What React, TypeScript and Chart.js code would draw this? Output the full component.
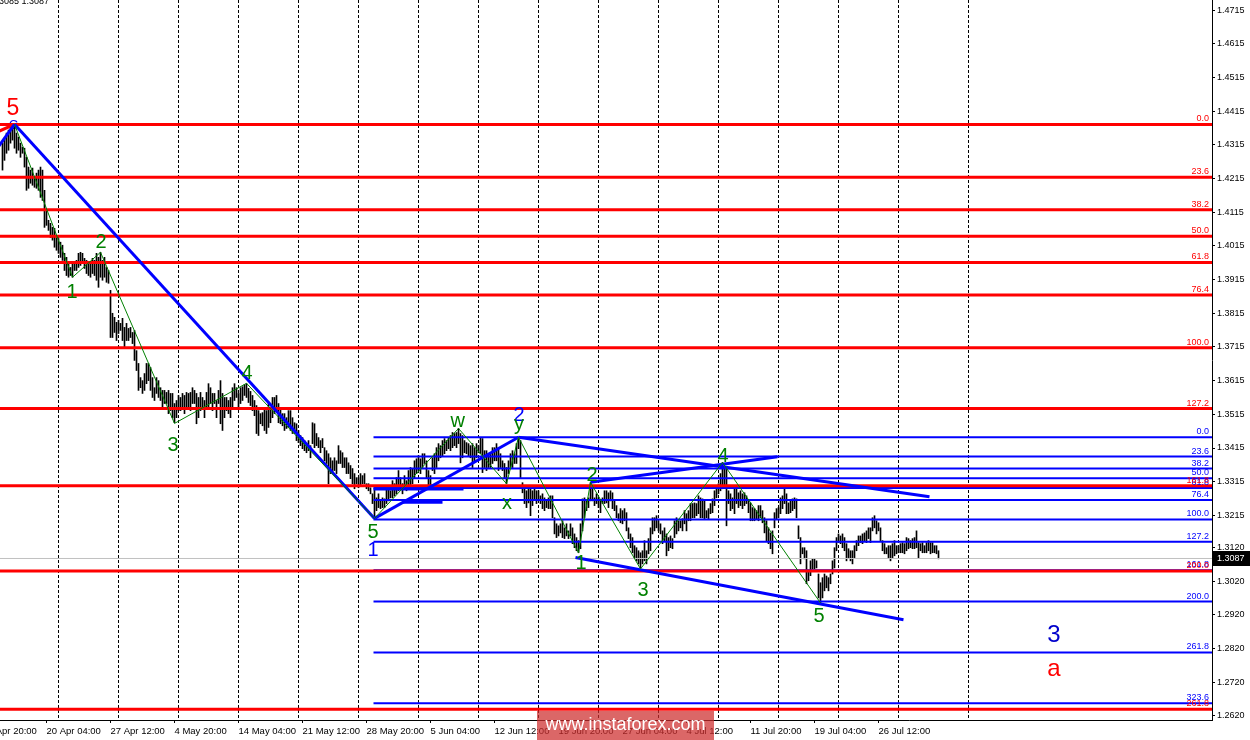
import React, { useEffect, useRef } from "react";
import { Chart, registerables } from "chart.js";

Chart.register(...registerables);

const FONT = '"Liberation Sans", Arial, Helvetica, sans-serif';

// H4 bar highs / lows (one bar per index, left to right)
const barHigh = [
  1.4320, 1.4335, 1.4350, 1.4359, 1.4367, 1.4373, 1.4376, 1.4350, 1.4338, 1.4320,
  1.4308, 1.4305, 1.4278, 1.4249, 1.4240, 1.4246, 1.4219, 1.4231, 1.4240, 1.4249,
  1.4240, 1.4180, 1.4121, 1.4091, 1.4082, 1.4070, 1.4067, 1.4040, 1.4037, 1.4026,
  1.4017, 1.3993, 1.3981, 1.3963, 1.3951, 1.3963, 1.3966, 1.3972, 1.3993, 1.3996,
  1.3993, 1.3978, 1.3972, 1.3963, 1.3966, 1.3978, 1.3972, 1.3993, 1.3981, 1.3996,
  1.3972, 1.3981, 1.3951, 1.3942, 1.3883, 1.3815, 1.3803, 1.3788, 1.3794, 1.3785,
  1.3800, 1.3773, 1.3785, 1.3770, 1.3773, 1.3758, 1.3764, 1.3704, 1.3666, 1.3624,
  1.3615, 1.3636, 1.3666, 1.3666, 1.3654, 1.3624, 1.3594, 1.3624, 1.3615, 1.3594,
  1.3586, 1.3586, 1.3580, 1.3586, 1.3577, 1.3577, 1.3547, 1.3556, 1.3571, 1.3565,
  1.3577, 1.3571, 1.3580, 1.3577, 1.3580, 1.3594, 1.3586, 1.3577, 1.3565, 1.3580,
  1.3565, 1.3556, 1.3580, 1.3606, 1.3594, 1.3577, 1.3577, 1.3556, 1.3586, 1.3615,
  1.3577, 1.3565, 1.3565, 1.3556, 1.3565, 1.3594, 1.3606, 1.3594, 1.3577,
  1.3594, 1.3597, 1.3603, 1.3606, 1.3592, 1.3583, 1.3571, 1.3556, 1.3541,
  1.3526, 1.3517, 1.3520, 1.3535, 1.3526, 1.3547, 1.3535, 1.3565, 1.3565, 1.3571,
  1.3547, 1.3535, 1.3517, 1.3517, 1.3505, 1.3526, 1.3526, 1.3505, 1.3490, 1.3487,
  1.3467, 1.3452, 1.3446, 1.3437, 1.3428, 1.3437, 1.3422, 1.3490, 1.3487, 1.3458,
  1.3446, 1.3437, 1.3443, 1.3416, 1.3407, 1.3398, 1.3386, 1.3377, 1.3386, 1.3377,
  1.3422, 1.3407, 1.3401, 1.3386, 1.3386, 1.3371, 1.3363, 1.3354, 1.3339, 1.3327,
  1.3327, 1.3339, 1.3333, 1.3339, 1.3309, 1.3309, 1.3297, 1.3279, 1.3294, 1.3267,
  1.3279, 1.3258, 1.3267, 1.3264, 1.3297, 1.3297, 1.3288, 1.3318, 1.3309, 1.3327,
  1.3348, 1.3327, 1.3309, 1.3333, 1.3318, 1.3348, 1.3357, 1.3354, 1.3377, 1.3383,
  1.3392, 1.3383, 1.3398, 1.3398, 1.3377, 1.3348, 1.3333, 1.3386, 1.3398, 1.3416,
  1.3428, 1.3422, 1.3437, 1.3443, 1.3437, 1.3446, 1.3452, 1.3461, 1.3458, 1.3461,
  1.3473,
  1.3458, 1.3452, 1.3437, 1.3431, 1.3428, 1.3422, 1.3428, 1.3416, 1.3428, 1.3422,
  1.3446, 1.3443, 1.3407, 1.3407, 1.3398, 1.3398, 1.3416, 1.3416, 1.3428, 1.3416,
  1.3398, 1.3377, 1.3369, 1.3357, 1.3377, 1.3398, 1.3407, 1.3398, 1.3428, 1.3446,
  1.3437, 1.3312, 1.3297, 1.3288, 1.3297, 1.3294, 1.3288, 1.3294, 1.3288, 1.3288,
  1.3273, 1.3279, 1.3267, 1.3258, 1.3267, 1.3273, 1.3273, 1.3208, 1.3190, 1.3184,
  1.3190, 1.3199, 1.3178, 1.3190, 1.3169, 1.3190, 1.3178, 1.3160, 1.3149, 1.3140,
  1.3190, 1.3264, 1.3267, 1.3258, 1.3267, 1.3312, 1.3303, 1.3267, 1.3279, 1.3267,
  1.3258, 1.3267, 1.3288, 1.3288, 1.3282, 1.3288, 1.3282, 1.3258, 1.3244, 1.3220,
  1.3235, 1.3229, 1.3235, 1.3223, 1.3178, 1.3160, 1.3149, 1.3125, 1.3119, 1.3110,
  1.3104, 1.3110, 1.3140, 1.3110, 1.3146, 1.3178, 1.3208, 1.3208, 1.3214, 1.3199,
  1.3190, 1.3169, 1.3178, 1.3160, 1.3149, 1.3154, 1.3146, 1.3199, 1.3208, 1.3199,
  1.3199, 1.3205, 1.3229, 1.3220, 1.3229, 1.3250, 1.3250, 1.3252, 1.3250, 1.3273,
  1.3267,
  1.3264, 1.3258, 1.3229, 1.3235, 1.3250, 1.3264, 1.3288, 1.3297, 1.3309, 1.3339,
  1.3372, 1.3357, 1.3354, 1.3288, 1.3279, 1.3267, 1.3297, 1.3294, 1.3282, 1.3288,
  1.3279, 1.3282, 1.3273, 1.3258, 1.3252, 1.3238, 1.3235, 1.3229, 1.3244, 1.3244,
  1.3229, 1.3208, 1.3199, 1.3178, 1.3163, 1.3169, 1.3223, 1.3235, 1.3238, 1.3267,
  1.3273, 1.3294, 1.3279, 1.3252, 1.3258, 1.3264, 1.3267, 1.3264, 1.3184, 1.3149,
  1.3119, 1.3119, 1.3110, 1.3050, 1.3080, 1.3086, 1.3086, 1.3080, 1.3041, 1.3015,
  1.3030, 1.3041, 1.3035, 1.3030, 1.3041, 1.3080, 1.3119, 1.3149, 1.3160, 1.3154,
  1.3160, 1.3149, 1.3131, 1.3116, 1.3110, 1.3110, 1.3125, 1.3140, 1.3154, 1.3154,
  1.3160, 1.3163, 1.3169, 1.3178, 1.3178, 1.3208, 1.3214, 1.3199, 1.3193, 1.3178,
  1.3140, 1.3131, 1.3119, 1.3125, 1.3125, 1.3131, 1.3140, 1.3125, 1.3125, 1.3131,
  1.3134, 1.3131, 1.3149, 1.3146, 1.3140, 1.3146, 1.3149, 1.3169, 1.3134, 1.3131,
  1.3134, 1.3125, 1.3134, 1.3140, 1.3134, 1.3134, 1.3125, 1.3125, 1.3110,
];

const barLow = [
  1.4240, 1.4269, 1.4290, 1.4299, 1.4320, 1.4329, 1.4305, 1.4290, 1.4299, 1.4278,
  1.4290, 1.4249, 1.4180, 1.4186, 1.4201, 1.4195, 1.4189, 1.4186, 1.4180, 1.4159,
  1.4150, 1.4070, 1.4076, 1.4061, 1.4040, 1.4032, 1.4011, 1.4002, 1.3993, 1.3981,
  1.3972, 1.3942, 1.3927, 1.3922, 1.3927, 1.3922, 1.3942, 1.3942, 1.3951, 1.3957,
  1.3963, 1.3948, 1.3933, 1.3927, 1.3922, 1.3933, 1.3927, 1.3913, 1.3892, 1.3922,
  1.3913, 1.3922, 1.3907, 1.3904, 1.3743, 1.3743, 1.3758, 1.3734, 1.3755, 1.3764,
  1.3734, 1.3713, 1.3734, 1.3734, 1.3743, 1.3725, 1.3675, 1.3645, 1.3586, 1.3594,
  1.3577, 1.3586, 1.3606, 1.3615, 1.3586, 1.3565, 1.3556, 1.3577, 1.3565, 1.3556,
  1.3535, 1.3547, 1.3547, 1.3517, 1.3526, 1.3505, 1.3490, 1.3505, 1.3526, 1.3526,
  1.3535, 1.3517, 1.3535, 1.3535, 1.3526, 1.3547, 1.3547, 1.3487, 1.3505, 1.3526,
  1.3535, 1.3505, 1.3535, 1.3535, 1.3547, 1.3526, 1.3547, 1.3505, 1.3547, 1.3487,
  1.3467, 1.3505, 1.3526, 1.3517, 1.3505, 1.3535, 1.3556, 1.3565, 1.3535,
  1.3547, 1.3556, 1.3571, 1.3565, 1.3550, 1.3541, 1.3526, 1.3511, 1.3458,
  1.3452, 1.3487, 1.3481, 1.3467, 1.3458, 1.3476, 1.3490, 1.3505, 1.3517, 1.3526,
  1.3490, 1.3487, 1.3481, 1.3467, 1.3473, 1.3476, 1.3467, 1.3458, 1.3458, 1.3437,
  1.3431, 1.3422, 1.3413, 1.3407, 1.3401, 1.3407, 1.3386, 1.3428, 1.3416, 1.3422,
  1.3416, 1.3401, 1.3416, 1.3377, 1.3369, 1.3309, 1.3339, 1.3339, 1.3348, 1.3339,
  1.3369, 1.3369, 1.3357, 1.3357, 1.3339, 1.3339, 1.3324, 1.3309, 1.3294, 1.3309,
  1.3297, 1.3303, 1.3309, 1.3309, 1.3294, 1.3288, 1.3279, 1.3250, 1.3206, 1.3229,
  1.3238, 1.3235, 1.3238, 1.3238, 1.3250, 1.3258, 1.3267, 1.3267, 1.3273, 1.3279,
  1.3288, 1.3294, 1.3279, 1.3297, 1.3288, 1.3297, 1.3303, 1.3309, 1.3324, 1.3339,
  1.3348, 1.3339, 1.3357, 1.3369, 1.3327, 1.3303, 1.3297, 1.3348, 1.3339, 1.3357,
  1.3377, 1.3386, 1.3392, 1.3398, 1.3407, 1.3413, 1.3407, 1.3416, 1.3422, 1.3416,
  1.3428,
  1.3371, 1.3386, 1.3401, 1.3398, 1.3392, 1.3386, 1.3357, 1.3377, 1.3386, 1.3401,
  1.3398, 1.3342, 1.3357, 1.3348, 1.3357, 1.3357, 1.3369, 1.3377, 1.3377, 1.3348,
  1.3357, 1.3348, 1.3327, 1.3309, 1.3339, 1.3357, 1.3357, 1.3369, 1.3369, 1.3413,
  1.3327, 1.3282, 1.3250, 1.3238, 1.3252, 1.3214, 1.3244, 1.3264, 1.3250, 1.3264,
  1.3250, 1.3235, 1.3229, 1.3238, 1.3235, 1.3235, 1.3208, 1.3160, 1.3149, 1.3154,
  1.3163, 1.3149, 1.3146, 1.3154, 1.3146, 1.3154, 1.3131, 1.3119, 1.3110, 1.3104,
  1.3116, 1.3169, 1.3208, 1.3229, 1.3238, 1.3258, 1.3258, 1.3244, 1.3250, 1.3238,
  1.3223, 1.3250, 1.3250, 1.3252, 1.3238, 1.3258, 1.3235, 1.3229, 1.3208, 1.3199,
  1.3193, 1.3190, 1.3199, 1.3169, 1.3146, 1.3119, 1.3104, 1.3089, 1.3080, 1.3071,
  1.3059, 1.3071, 1.3080, 1.3071, 1.3101, 1.3110, 1.3160, 1.3169, 1.3178, 1.3169,
  1.3160, 1.3131, 1.3140, 1.3095, 1.3110, 1.3119, 1.3116, 1.3149, 1.3160, 1.3169,
  1.3178, 1.3169, 1.3190, 1.3169, 1.3199, 1.3199, 1.3208, 1.3208, 1.3214, 1.3220,
  1.3208,
  1.3208, 1.3205, 1.3208, 1.3205, 1.3220, 1.3223, 1.3244, 1.3267, 1.3279, 1.3288,
  1.3294, 1.3297, 1.3184, 1.3250, 1.3229, 1.3235, 1.3220, 1.3250, 1.3238, 1.3244,
  1.3235, 1.3244, 1.3250, 1.3223, 1.3199, 1.3199, 1.3199, 1.3205, 1.3199, 1.3208,
  1.3193, 1.3163, 1.3140, 1.3131, 1.3116, 1.3101, 1.3178, 1.3205, 1.3208, 1.3220,
  1.3235, 1.3250, 1.3220, 1.3220, 1.3223, 1.3229, 1.3235, 1.3208, 1.3146, 1.3071,
  1.3101, 1.3086, 1.3012, 1.3021, 1.3036, 1.3056, 1.3056, 1.3059, 1.2970, 1.2955,
  1.2970, 1.2991, 1.3000, 1.2991, 1.3012, 1.3041, 1.3059, 1.3110, 1.3134, 1.3131,
  1.3119, 1.3110, 1.3080, 1.3089, 1.3080, 1.3071, 1.3089, 1.3110, 1.3125, 1.3134,
  1.3131, 1.3140, 1.3134, 1.3146, 1.3134, 1.3169, 1.3178, 1.3160, 1.3169, 1.3140,
  1.3110, 1.3101, 1.3101, 1.3089, 1.3080, 1.3089, 1.3095, 1.3101, 1.3104, 1.3104,
  1.3104, 1.3101, 1.3110, 1.3116, 1.3119, 1.3116, 1.3116, 1.3119, 1.3089, 1.3110,
  1.3104, 1.3104, 1.3104, 1.3110, 1.3101, 1.3104, 1.3104, 1.3101, 1.3086,
];

const lastPrice = 1.3087;
const headerText = "3085 1.3087";

const priceTicks = [
  1.2620, 1.2720, 1.2820, 1.2920, 1.3020, 1.3120, 1.3215, 1.3315, 1.3415, 1.3515, 1.3615,
  1.3715, 1.3815, 1.3915, 1.4015, 1.4115, 1.4215, 1.4315, 1.4415, 1.4515, 1.4615, 1.4715,
];

const dateLabels = [
  "13 Apr 20:00", "20 Apr 04:00", "27 Apr 12:00", "4 May 20:00", "14 May 04:00",
  "21 May 12:00", "28 May 20:00", "5 Jun 04:00", "12 Jun 12:00", "19 Jun 20:00",
  "27 Jun 04:00", "4 Jul 12:00", "11 Jul 20:00", "19 Jul 04:00", "26 Jul 12:00",
];
const dateLabelBars = [-10, 22, 54, 86, 118, 150, 182, 214, 246, 278, 310, 342, 374, 406, 438];
const gridBars = [28, 58, 88, 118, 148, 178, 208, 238, 268, 298, 328, 358, 388, 418, 448, 483];

// Fibonacci grids
const redFibHigh = 1.43755;
const redFibLow = 1.37125;
const redFibRatios = [0, 23.6, 38.2, 50, 61.8, 76.4, 100, 127.2, 161.8, 200, 261.8];
const blueFibHigh = 1.3447;
const blueFibLow = 1.3203;
const blueFibStartBar = 185.5;
const blueFibRatios = [0, 23.6, 38.2, 50, 61.8, 76.4, 100, 127.2, 161.8, 200, 261.8, 323.6];

// Wave zigzags (bar index, price)
const waveABars = [6, 35, 49, 86, 122, 186];
const waveAPrices = [1.4376, 1.3922, 1.3996, 1.3488, 1.3607, 1.3206];
const waveBBars = [186, 228, 252, 258, 288, 294, 319, 360, 409];
const waveBPrices = [1.3206, 1.3473, 1.3309, 1.3447, 1.3104, 1.3313, 1.3056, 1.3372, 1.2955];

// Blue trend lines
const trendBars = [[6, 186], [186, 258], [258, 463.5], [286.5, 450.5], [294, 387.5], [-8, 6]];
const trendPrices = [
  [1.4376, 1.3206], [1.3206, 1.3447], [1.3447, 1.3270], [1.3090, 1.2905], [1.3313, 1.3389], [1.4260, 1.4376],
];
const redLeadBars = [-8, 6];
const redLeadPrices = [1.4339, 1.4376];
const segmentBars = [[200, 220], [185.5, 230.5]];
const segmentPrices = [1.3254, 1.3293];

// Wave labels
const waveLabelText = ["5", "1", "2", "3", "4", "5", "1", "w", "x", "2", "y", "1", "2", "3", "4", "5", "3", "a"];
const waveLabelBar = [5.25, 34.75, 49.25, 85.25, 122.25, 185.25, 185.25, 227.6, 252.25, 258.25, 258.25, 289.25, 294.75, 320.25, 360.25, 408.25, 525.75, 525.75];
const waveLabelPrice = [1.4403, 1.3859, 1.4008, 1.3407, 1.3621, 1.3149, 1.3095, 1.3476, 1.3235, 1.3496, 1.3467, 1.3056, 1.3318, 1.2976, 1.3372, 1.2899, 1.2839, 1.2738];
const waveLabelKind = ["redTop", "green", "green", "green", "green", "green", "blue", "green", "green", "blue", "green", "green", "green", "green", "green", "green", "blueBig", "redBig"];

const LABEL_STYLE: Record<string, { color: string; size: number }> = {
  redTop: { color: "#ff0000", size: 23 },
  green: { color: "#008000", size: 20 },
  blue: { color: "#0000ff", size: 20 },
  blueBig: { color: "#0000cc", size: 24 },
  redBig: { color: "#ff0000", size: 24 },
};

const X_MIN = -1.25;
const X_MAX = 604.75;
const Y_MIN = 1.26075;
const Y_MAX = 1.4745;

const fibPrice = (hi: number, lo: number, r: number) => hi - (r / 100) * (hi - lo);

function lineDs(points: { x: number; y: number }[], color: string, width: number, order: number) {
  return {
    type: "line" as const,
    data: points,
    borderColor: color,
    backgroundColor: color,
    borderWidth: width,
    pointRadius: 0,
    pointHoverRadius: 0,
    fill: false,
    tension: 0,
    order,
  };
}

const noPad = (s: any) => {
  s.paddingLeft = 0;
  s.paddingRight = 0;
  s.paddingTop = 0;
  s.paddingBottom = 0;
};

export default function App() {
  const ref = useRef<HTMLCanvasElement>(null);

  useEffect(() => {
    const canvas = ref.current;
    if (!canvas) return;
    const n = Math.min(barHigh.length, barLow.length);
    const bars = [];
    for (let i = 0; i < n; i++) bars.push({ x: i, y: [barLow[i], barHigh[i]] });

    const datasets: any[] = [];
    datasets.push(lineDs(waveABars.map((b, k) => ({ x: b, y: waveAPrices[k] })), "#008000", 1, 1));
    datasets.push(lineDs(waveBBars.map((b, k) => ({ x: b, y: waveBPrices[k] })), "#008000", 1, 1));
    trendBars.forEach((tb, k) => {
      datasets.push(lineDs(tb.map((b, j) => ({ x: b, y: trendPrices[k][j] })), "#0000ff", 3, 2));
    });
    datasets.push(lineDs(redLeadBars.map((b, j) => ({ x: b, y: redLeadPrices[j] })), "#ff0000", 3, 2));
    segmentBars.forEach((sb, k) => {
      datasets.push(lineDs(sb.map((b) => ({ x: b, y: segmentPrices[k] })), "#0000ff", 3, 3));
    });
    redFibRatios.forEach((r) => {
      const p = fibPrice(redFibHigh, redFibLow, r);
      datasets.push(lineDs([{ x: X_MIN, y: p }, { x: X_MAX, y: p }], "#ff0000", 3, 4));
    });
    blueFibRatios.forEach((r) => {
      const p = fibPrice(blueFibHigh, blueFibLow, r);
      datasets.push(lineDs([{ x: blueFibStartBar, y: p }, { x: X_MAX, y: p }], "#0000ff", 2, 5));
    });
    datasets.push(lineDs([{ x: X_MIN, y: lastPrice }, { x: X_MAX, y: lastPrice }], "#c0c0c0", 1, 6));
    datasets.push({
      type: "bar",
      data: bars,
      backgroundColor: "#000000",
      borderWidth: 0,
      barThickness: 1,
      grouped: false,
      order: 7,
    });

    const overlay = {
      id: "overlay",
      beforeDatasetsDraw(chart: any) {
        const { ctx, scales } = chart;
        ctx.save();
        ctx.font = `13px ${FONT}`;
        ctx.fillStyle = "#0000ff";
        ctx.textAlign = "center";
        ctx.textBaseline = "alphabetic";
        ctx.fillText("C", scales.x.getPixelForValue(waveABars[0] - 0.5), scales.y.getPixelForValue(1.4362));
        ctx.restore();
      },
      afterDatasetsDraw(chart: any) {
        const { ctx, chartArea, scales } = chart;
        const xs = scales.x;
        const ys = scales.y;
        ctx.save();
        ctx.beginPath();
        ctx.rect(chartArea.left, chartArea.top, chartArea.right - chartArea.left, chartArea.bottom - chartArea.top);
        ctx.clip();
        ctx.font = `9px ${FONT}`;
        ctx.textAlign = "right";
        ctx.textBaseline = "alphabetic";
        blueFibRatios.forEach((r) => {
          ctx.fillStyle = "#0000ff";
          ctx.fillText(r.toFixed(1), chartArea.right - 3, ys.getPixelForValue(fibPrice(blueFibHigh, blueFibLow, r)) - 3);
        });
        redFibRatios.forEach((r) => {
          ctx.fillStyle = "#ff0000";
          ctx.fillText(r.toFixed(1), chartArea.right - 3, ys.getPixelForValue(fibPrice(redFibHigh, redFibLow, r)) - 3);
        });
        ctx.textAlign = "center";
        waveLabelText.forEach((t, k) => {
          const st = LABEL_STYLE[waveLabelKind[k]];
          ctx.font = `${st.size}px ${FONT}`;
          ctx.fillStyle = st.color;
          ctx.fillText(t, xs.getPixelForValue(waveLabelBar[k]), ys.getPixelForValue(waveLabelPrice[k]));
        });
        ctx.font = `9px ${FONT}`;
        ctx.fillStyle = "#000";
        ctx.textAlign = "left";
        ctx.fillText(headerText, -1, 4);
        ctx.restore();
      },
      afterDraw(chart: any) {
        const { ctx, chartArea, scales } = chart;
        const yp = scales.y.getPixelForValue(lastPrice);
        ctx.save();
        ctx.fillStyle = "#000";
        ctx.fillRect(chartArea.right, Math.round(yp) - 7, chart.width - chartArea.right, 15);
        ctx.fillStyle = "#fff";
        ctx.font = `9px ${FONT}`;
        ctx.textAlign = "left";
        ctx.textBaseline = "middle";
        ctx.fillText(lastPrice.toFixed(4), chartArea.right + 5, Math.round(yp) + 0.5);
        // watermark
        ctx.fillStyle = "rgba(205, 45, 45, 0.72)";
        ctx.fillRect(537, 711, 177, 29);
        ctx.fillStyle = "#ffffff";
        ctx.font = `18px ${FONT}`;
        ctx.textAlign = "center";
        ctx.textBaseline = "middle";
        ctx.fillText("www.instaforex.com", 625.5, 725);
        ctx.restore();
      },
    };

    const chart = new Chart(canvas, {
      type: "line",
      data: { datasets },
      options: {
        responsive: false,
        maintainAspectRatio: false,
        animation: false,
        devicePixelRatio: 1,
        events: [],
        layout: { padding: 0 },
        plugins: {
          legend: { display: false },
          tooltip: { enabled: false },
          title: { display: false },
        },
        scales: {
          x: {
            type: "linear",
            position: "bottom",
            min: X_MIN,
            max: X_MAX,
            offset: false,
            afterBuildTicks: (s: any) => {
              s.ticks = dateLabelBars.map((v) => ({ value: v }));
            },
            afterFit: (s: any) => {
              s.height = 20;
              noPad(s);
            },
            ticks: {
              autoSkip: false,
              maxRotation: 0,
              minRotation: 0,
              align: "start",
              padding: 3,
              color: "#000",
              font: { family: FONT, size: 9.5 },
              callback: (_v: any, i: number) => dateLabels[i],
            },
            grid: { drawOnChartArea: false, drawTicks: true, tickLength: 3, color: "#000", offset: false },
            border: { display: true, color: "#000", width: 1 },
          },
          x2: {
            type: "linear",
            position: "top",
            min: X_MIN,
            max: X_MAX,
            offset: false,
            afterBuildTicks: (s: any) => {
              s.ticks = gridBars.map((v) => ({ value: v }));
            },
            afterFit: (s: any) => {
              s.height = 0;
              noPad(s);
            },
            ticks: { display: false },
            grid: { drawOnChartArea: true, drawTicks: false, color: "#000", lineWidth: 1, offset: false },
            border: { display: false, dash: [3, 2] },
          },
          y: {
            type: "linear",
            position: "right",
            min: Y_MIN,
            max: Y_MAX,
            afterBuildTicks: (s: any) => {
              s.ticks = priceTicks.map((v) => ({ value: v }));
            },
            afterFit: (s: any) => {
              s.width = 38;
              noPad(s);
            },
            ticks: {
              autoSkip: false,
              padding: 2,
              color: "#000",
              font: { family: FONT, size: 9 },
              callback: (v: any) => Number(v).toFixed(4),
            },
            grid: { drawOnChartArea: false, drawTicks: true, tickLength: 3, color: "#000" },
            border: { display: true, color: "#000", width: 1 },
          },
        },
      } as any,
      plugins: [overlay],
    });
    return () => chart.destroy();
  }, []);

  return (
    <div style={{ position: "absolute", left: 0, top: 0, width: 1250, height: 740, background: "#fff" }}>
      <canvas ref={ref} width={1250} height={740} style={{ display: "block" }} />
    </div>
  );
}
